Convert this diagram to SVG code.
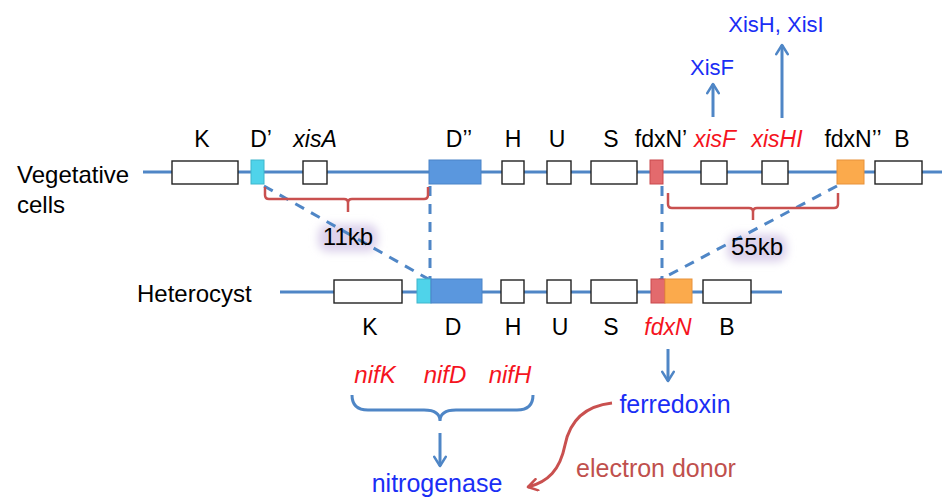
<svg xmlns="http://www.w3.org/2000/svg" width="942" height="502" viewBox="0 0 942 502">
<style>
text{font-family:"Liberation Sans",Arial,sans-serif;}
.lbl{font-size:23px;fill:#000;text-anchor:middle;}
.it{font-style:italic;}
.red{fill:#f5141e;}
.blue{fill:#1a2ef5;}
.chr{stroke:#4f86c6;stroke-width:3;fill:none;}
.dash{stroke:#4f86c6;stroke-width:3;fill:none;stroke-dasharray:10 8;}
.wb{fill:#fff;stroke:#222;stroke-width:1.4;}
.cy{fill:#4fd3ea;stroke:#3fb6cc;stroke-width:1;}
.bl{fill:#5a97de;stroke:#4a84c8;stroke-width:1;}
.rd{fill:#e36a6d;stroke:#c9494d;stroke-width:1;}
.or{fill:#fbaa4c;stroke:#e8923a;stroke-width:1;}
.brk{stroke:#c9504f;stroke-width:2.5;fill:none;stroke-linejoin:round;}
.arr{stroke:#4f86c6;stroke-width:3;fill:none;marker-end:url(#ah);}
</style>
<defs>
<marker id="ah" viewBox="0 0 12 12" refX="10" refY="6" markerWidth="4.6" markerHeight="4.6" orient="auto" markerUnits="strokeWidth">
<path d="M2,1 L10,6 L2,11" fill="none" stroke="#4f86c6" stroke-width="2.2" stroke-linecap="round" stroke-linejoin="round"/>
</marker>
<marker id="ahr" viewBox="0 0 12 12" refX="10" refY="6" markerWidth="4.6" markerHeight="4.6" orient="auto" markerUnits="strokeWidth">
<path d="M2,1 L10,6 L2,11" fill="none" stroke="#c9504f" stroke-width="2.2" stroke-linecap="round" stroke-linejoin="round"/>
</marker>
<filter id="glow" x="-30%" y="-50%" width="160%" height="200%">
<feGaussianBlur stdDeviation="4"/>
</filter>
</defs>

<!-- chromosome lines -->
<g id="lines">
<line class="chr" x1="143" y1="172" x2="942" y2="172"/>
<line class="chr" x1="280" y1="292" x2="782" y2="292"/>
</g>

<!-- side labels -->
<g id="side-labels">
<text x="17" y="183" font-size="24">Vegetative</text>
<text x="17" y="213" font-size="24">cells</text>
<text x="137" y="302" font-size="24">Heterocyst</text>
</g>

<!-- glows behind kb labels -->
<g id="glows">
<rect x="318" y="224" width="60" height="28" rx="10" fill="#ddd3ec" filter="url(#glow)"/>
<rect x="727" y="234" width="60" height="28" rx="10" fill="#ddd3ec" filter="url(#glow)"/>
</g>

<!-- connectors -->
<g id="connectors">
<line class="dash" x1="264" y1="186" x2="430" y2="280"/>
<line class="dash" x1="430" y1="186" x2="430" y2="280"/>
<line class="dash" x1="662" y1="186" x2="662" y2="282"/>
<line class="dash" x1="837" y1="186" x2="652" y2="284"/>
<path class="brk" d="M265,187 L265,195 Q265,199 269,199 L344,199 Q348,199 348,203 L348,212 M348,203 Q348,199 352,199 L424,199 Q428,199 428,195 L428,187"/>
<path class="brk" d="M668,193 L668,204 Q668,208 672,208 L749,208 Q753,208 753,212 L753,220 M753,212 Q753,208 757,208 L834,208 Q838,208 838,204 L838,193"/>
<line class="arr" x1="713" y1="117" x2="713" y2="84"/>
<line class="arr" x1="782" y1="118" x2="782" y2="45"/>
<line class="arr" x1="668" y1="349" x2="668" y2="381"/>
<line class="arr" x1="440" y1="433" x2="440" y2="466"/>
<path d="M352,395 Q352,410 368,410 L424,410 Q440,410 440,421 Q440,410 456,410 L517,410 Q533,410 533,395" fill="none" stroke="#4f86c6" stroke-width="3"/>
<path d="M612,403 C585,406 570,420 565,445 C560,470 548,482 528,487" fill="none" stroke="#c9504f" stroke-width="3" marker-end="url(#ahr)"/>
</g>

<!-- vegetative genes -->
<g id="veg-K"><rect class="wb" x="172" y="161" width="66" height="23"/><text class="lbl" x="202" y="147">K</text></g>
<g id="veg-Dp"><rect class="cy" x="251" y="160" width="13" height="24"/><text class="lbl" x="261" y="147">D’</text></g>
<g id="veg-xisA"><rect class="wb" x="303" y="161" width="24" height="23"/><text class="lbl it" x="315" y="147">xisA</text></g>
<g id="veg-Dpp"><rect class="bl" x="429" y="160" width="52" height="24"/><text class="lbl" x="459" y="147">D’’</text></g>
<g id="veg-H"><rect class="wb" x="502" y="161" width="22" height="23"/><text class="lbl" x="513" y="147">H</text></g>
<g id="veg-U"><rect class="wb" x="547" y="161" width="24" height="23"/><text class="lbl" x="557" y="147">U</text></g>
<g id="veg-S"><rect class="wb" x="591" y="161" width="46" height="23"/><text class="lbl" x="611" y="147">S</text></g>
<g id="veg-fdxNp"><rect class="rd" x="650" y="160" width="13" height="24"/><text class="lbl" x="661" y="147">fdxN’</text></g>
<g id="veg-xisF"><rect class="wb" x="701" y="161" width="26" height="23"/><text class="lbl it red" x="715" y="147">xisF</text></g>
<g id="veg-xisHI"><rect class="wb" x="762" y="161" width="26" height="23"/><text class="lbl it red" x="777" y="147">xisHI</text></g>
<g id="veg-fdxNpp"><rect class="or" x="837" y="160" width="27" height="24"/><text class="lbl" x="853" y="147">fdxN’’</text></g>
<g id="veg-B"><rect class="wb" x="875" y="161" width="47" height="23"/><text class="lbl" x="902" y="147">B</text></g>

<!-- heterocyst genes -->
<g id="het-K"><rect class="wb" x="334" y="280" width="68" height="23"/><text class="lbl" x="370" y="335">K</text></g>
<g id="het-D"><rect class="cy" x="417" y="279" width="14" height="24"/><rect class="bl" x="431" y="279" width="51" height="24"/><text class="lbl" x="453" y="335">D</text></g>
<g id="het-H"><rect class="wb" x="501" y="280" width="23" height="23"/><text class="lbl" x="513" y="335">H</text></g>
<g id="het-U"><rect class="wb" x="547" y="280" width="24" height="23"/><text class="lbl" x="560" y="335">U</text></g>
<g id="het-S"><rect class="wb" x="591" y="280" width="46" height="23"/><text class="lbl" x="611" y="335">S</text></g>
<g id="het-fdxN"><rect class="rd" x="651" y="279" width="14" height="24"/><rect class="or" x="665" y="279" width="27" height="24"/><text class="lbl it red" x="668" y="335">fdxN</text></g>
<g id="het-B"><rect class="wb" x="703" y="280" width="48" height="23"/><text class="lbl" x="727" y="335">B</text></g>

<!-- kb labels -->
<g id="kb11"><text x="348" y="245" font-size="24" text-anchor="middle">11kb</text></g>
<g id="kb55"><text x="757" y="255" font-size="24" text-anchor="middle">55kb</text></g>

<!-- products -->
<g id="XisF"><text class="blue" x="712" y="75" font-size="22" text-anchor="middle">XisF</text></g>
<g id="XisHI"><text class="blue" x="776" y="32" font-size="22" text-anchor="middle">XisH, XisI</text></g>
<g id="nif">
<text class="red it" x="375" y="383" font-size="24" text-anchor="middle">nifK</text>
<text class="red it" x="445" y="383" font-size="24" text-anchor="middle">nifD</text>
<text class="red it" x="510" y="383" font-size="24" text-anchor="middle">nifH</text>
</g>
<g id="ferredoxin"><text class="blue" x="675" y="413" font-size="25" text-anchor="middle">ferredoxin</text></g>
<g id="nitrogenase"><text class="blue" x="437" y="492" font-size="25" text-anchor="middle">nitrogenase</text></g>
<g id="edonor"><text x="656" y="477" font-size="25" text-anchor="middle" fill="#c0504d">electron donor</text></g>
</svg>
